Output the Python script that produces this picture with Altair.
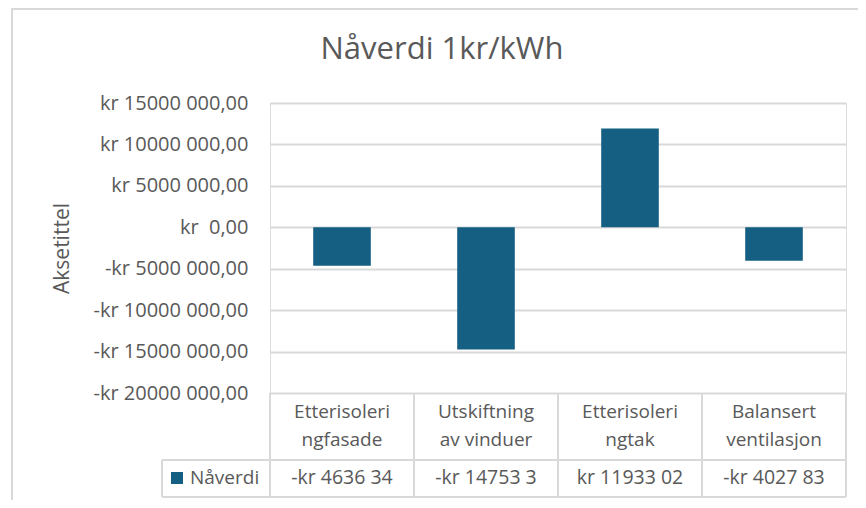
import altair as alt
import pandas as pd

# ---- data ----
categories = ["Etterisolering fasade", "Utskiftning av vinduer", "Etterisolering tak", "Balansert ventilasjon"]
header_labels = ["Etterisoleri\nngfasade", "Utskiftning\nav vinduer", "Etterisoleri\nngtak", "Balansert\nventilasjon"]
values = [-4636340, -14753300, 11933020, -4027830]
table_labels = ["-kr 4636 34", "-kr 14753 3", "kr 11933 02", "-kr 4027 83"]
series_name = "Nåverdi"
y_ticks = [15000000, 10000000, 5000000, 0, -5000000, -10000000, -15000000, -20000000]
y_tick_labels = ["kr 15000 000,00", "kr 10000 000,00", "kr 5000 000,00", "kr\u00a0 0,00",
                 "-kr 5000 000,00", "-kr 10000 000,00", "-kr 15000 000,00", "-kr 20000 000,00"]
title_text = "Nåverdi 1kr/kWh"
y_title = "Aksetittel"

BAR = "#156082"
TXT = "#595959"
GRID = "#d9d9d9"
FONT = "Open Sans"
W, H = 576, 290

df = pd.DataFrame({"cat": categories, "header": header_labels, "value": values,
                   "label": table_labels, "series": series_name})
legend_df = pd.DataFrame({"series": [series_name]})
one = pd.DataFrame({"k": [0]})

ticks_js = "[" + ",".join(str(v) for v in y_ticks) + "]"
labels_js = "[" + ",".join("'" + s + "'" for s in y_tick_labels) + "]"
label_expr = f"{labels_js}[indexof({ticks_js}, datum.value)]"

xenc = alt.X("cat:N", sort=categories, axis=None,
             scale=alt.Scale(paddingInner=0, paddingOuter=0))

base = alt.Chart(df)

border = alt.Chart(one).mark_rect(filled=False, stroke=GRID, strokeWidth=2).encode(
    x=alt.value(-258), x2=alt.value(700), y=alt.value(-94), y2=alt.value(600))

bars = base.mark_bar(color=BAR, width=alt.RelativeBandSize(0.4)).encode(
    x=xenc,
    y=alt.Y("value:Q",
            scale=alt.Scale(domain=[-20000000, 15000000], nice=False, zero=True),
            axis=alt.Axis(values=y_ticks, labelExpr=label_expr, grid=True,
                          gridColor=GRID, gridWidth=2, domain=False, ticks=False,
                          tickSize=0, labelPadding=22, labelFontSize=20,
                          labelColor=TXT, labelFont=FONT,
                          title=y_title, titleFontSize=21, titleColor=TXT,
                          titleFont=FONT, titleFontWeight="normal",
                          titleX=-208, titleY=H / 2, titleAngle=270,
                          titleBaseline="middle", titleAlign="center")),
)

vlines = base.mark_rule(color=GRID, strokeWidth=2).encode(
    x=alt.X("cat:N", sort=categories, bandPosition=0, axis=None),
    y=alt.value(H), y2=alt.value(394))
right_line = alt.Chart(one).mark_rule(color=GRID, strokeWidth=2).encode(
    x=alt.value(W), y=alt.value(H), y2=alt.value(394))
row_line = alt.Chart(one).mark_rule(color=GRID, strokeWidth=2).encode(
    x=alt.value(-108), x2=alt.value(W), y=alt.value(357))
bottom_line = alt.Chart(one).mark_rule(color=GRID, strokeWidth=2).encode(
    x=alt.value(-108), x2=alt.value(W), y=alt.value(394))
left_line = alt.Chart(one).mark_rule(color=GRID, strokeWidth=2).encode(
    x=alt.value(-108), y=alt.value(357), y2=alt.value(394))

header = base.mark_text(lineBreak="\n", lineHeight=28, fontSize=19, color=TXT,
                        font=FONT, baseline="middle").encode(
    x=alt.X("cat:N", sort=categories, axis=None), y=alt.value(309), text="header:N")
vals = base.mark_text(fontSize=19.5, color=TXT, font=FONT, baseline="middle").encode(
    x=alt.X("cat:N", sort=categories, axis=None), y=alt.value(375), text="label:N")

leg_sq = alt.Chart(legend_df).mark_square(size=144, color=BAR, opacity=1).encode(
    x=alt.value(-93), y=alt.value(375))
leg_txt = alt.Chart(legend_df).mark_text(fontSize=19, color=TXT, font=FONT,
                                         align="left", baseline="middle").encode(
    x=alt.value(-80), y=alt.value(375), text="series:N")

chart = alt.layer(border, bars, vlines, right_line, row_line, bottom_line, left_line,
                  header, vals, leg_sq, leg_txt).properties(
    width=W, height=H,
    title=alt.TitleParams(title_text, fontSize=31, color=TXT, font=FONT,
                          fontWeight="normal", anchor="middle", dx=-116,
                          offset=0, dy=82, baseline="alphabetic"),
    autosize=alt.AutoSizeParams(type="none"),
    padding={"left": 262, "top": 95, "right": 12, "bottom": 107},
).configure_view(stroke=None).configure(font=FONT)

chart.save("out.html", embed_options={"renderer": "svg", "actions": False})
